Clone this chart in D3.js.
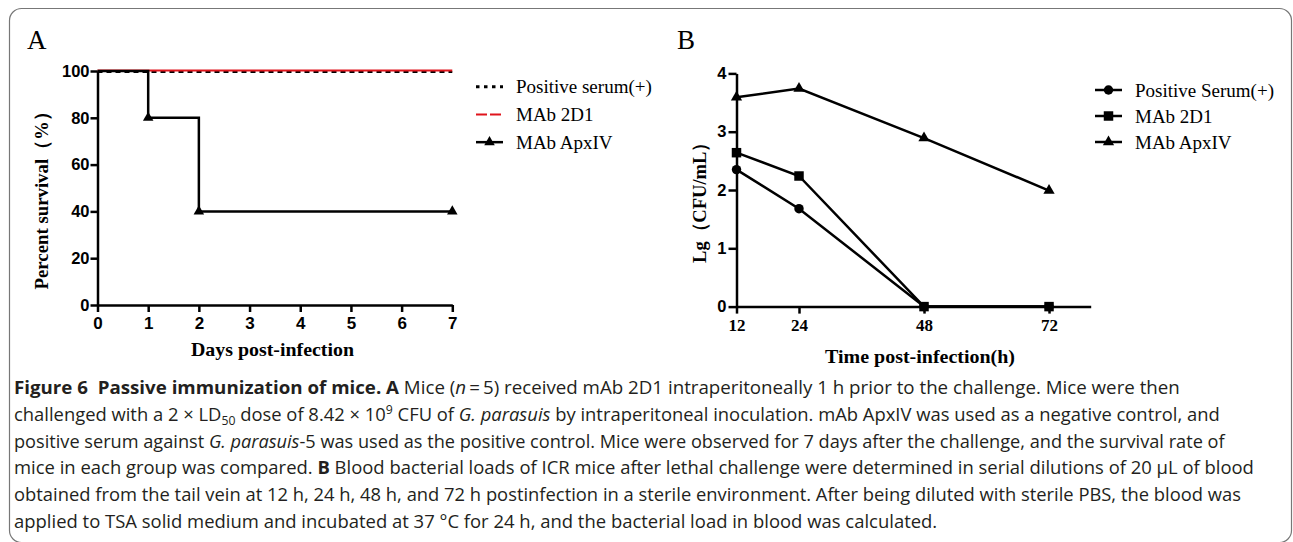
<!DOCTYPE html>
<html><head><meta charset="utf-8">
<script src="https://cdn.jsdelivr.net/npm/d3@7"></script>
<style>html,body{margin:0;padding:0;background:#fff;}svg{display:block;}</style>
</head><body>
<script>
// ---------- DATA ----------
const survivalDays = [0, 1, 2, 7];
const survivalPositiveSerum = [100, 100, 100, 100];
const survivalMAb2D1 = [100, 100, 100, 100];
const survivalMAbApxIV = [100, 80, 40, 40];
const survivalTicksX = [0, 1, 2, 3, 4, 5, 6, 7];
const survivalTicksY = [0, 20, 40, 60, 80, 100];
const survivalLegend = ["Positive serum(+)", "MAb 2D1", "MAb ApxIV"];

const loadHours = [12, 24, 48, 72];
const loadPositiveSerum = [2.35, 1.68, 0, 0];
const loadMAb2D1 = [2.64, 2.24, 0, 0];
const loadMAbApxIV = [3.59, 3.74, 2.89, 1.99];
const loadTicksX = [12, 24, 48, 72];
const loadTicksY = [0, 1, 2, 3, 4];
const loadLegend = ["Positive Serum(+)", "MAb 2D1", "MAb ApxIV"];

const captionLines = [
  [{t:"Figure 6\u00A0\u00A0Passive immunization of mice. A", b:1}, {t:" Mice ("}, {t:"n", i:1}, {t:"\u2009=\u20095) received mAb 2D1 intraperitoneally 1 h prior to the challenge. Mice were then"}],
  [{t:"challenged with a 2 × LD"}, {t:"50", sub:1}, {t:" dose of 8.42 × 10"}, {t:"9", sup:1}, {t:" CFU of "}, {t:"G. parasuis", i:1}, {t:" by intraperitoneal inoculation. mAb ApxIV was used as a negative control, and"}],
  [{t:"positive serum against "}, {t:"G. parasuis", i:1}, {t:"-5 was used as the positive control. Mice were observed for 7 days after the challenge, and the survival rate of"}],
  [{t:"mice in each group was compared. "}, {t:"B", b:1}, {t:" Blood bacterial loads of ICR mice after lethal challenge were determined in serial dilutions of 20 μL of blood"}],
  [{t:"obtained from the tail vein at 12 h, 24 h, 48 h, and 72 h postinfection in a sterile environment. After being diluted with sterile PBS, the blood was"}],
  [{t:"applied to TSA solid medium and incubated at 37 °C for 24 h, and the bacterial load in blood was calculated."}]
];
const captionLineEnds = [1180, 1220, 1225, 1254, 1242, 938];

// ---------- SETUP ----------
const W = 1293, H = 542;
const svg = d3.select("body").append("svg").attr("width", W).attr("height", H);
svg.append("rect").attr("width", W).attr("height", H).attr("fill", "#fff");
svg.append("rect").attr("x", 9.5).attr("y", 8.5).attr("width", 1282).attr("height", 534)
  .attr("rx", 12).attr("fill", "none").attr("stroke", "#777").attr("stroke-width", 1.2);

const SERIF = "'Liberation Serif','Times New Roman',serif";
const SANS = "'Liberation Sans',Arial,sans-serif";
const LW = 2.5;
const intFmt = d3.format("d");

function styleAxis(g, font, size) {
  g.select(".domain").attr("stroke", "#000").attr("stroke-width", LW);
  g.selectAll(".tick line").attr("stroke", "#000").attr("stroke-width", LW);
  g.selectAll(".tick text").attr("fill", "#000").style("font-family", font)
    .style("font-weight", "bold").style("font-size", size + "px");
}

// ---------- PANEL A ----------
const xA = d3.scaleLinear().domain([0, 7]).range([97.5, 452.3]);
const yA = d3.scaleLinear().domain([0, 100]).range([305, 71]);
const gA = svg.append("g");

gA.append("text").attr("x", 27).attr("y", 49).text("A")
  .style("font-family", SERIF).style("font-size", "27px");

const lineA = d3.line().x((d, i) => xA(survivalDays[i])).y(d => yA(d)).curve(d3.curveStepAfter);

gA.append("path").attr("d", lineA(survivalPositiveSerum)).attr("fill", "none")
  .attr("stroke", "#000").attr("stroke-width", 2).attr("stroke-dasharray", "5,4")
  .attr("transform", "translate(0,1)");
gA.append("path").attr("d", lineA(survivalMAb2D1)).attr("fill", "none")
  .attr("stroke", "#e0141c").attr("stroke-width", 2.2).attr("transform", "translate(0,-0.5)");

gA.append("g").attr("transform", `translate(0,${yA(0)})`)
  .call(d3.axisBottom(xA).tickValues(survivalTicksX).tickFormat(intFmt).tickSize(7).tickSizeOuter(0).tickPadding(5))
  .call(g => styleAxis(g, SANS, 17));
gA.append("g").attr("transform", `translate(${xA(0)},0)`)
  .call(d3.axisLeft(yA).tickValues(survivalTicksY).tickFormat(intFmt).tickSize(7).tickSizeOuter(0).tickPadding(1))
  .call(g => styleAxis(g, SANS, 16.5));

gA.append("path").attr("d", lineA(survivalMAbApxIV)).attr("fill", "none")
  .attr("stroke", "#000").attr("stroke-width", LW);
gA.selectAll(".triA").data(survivalMAbApxIV.map((v, i) => [survivalDays[i], v]).filter((d, i) => i > 0))
  .enter().append("path")
  .attr("d", d3.symbol().type(d3.symbolTriangle).size(48))
  .attr("transform", d => `translate(${xA(d[0])},${yA(d[1])})`).attr("fill", "#000");

gA.append("text").attr("x", 272.5).attr("y", 356).attr("text-anchor", "middle")
  .attr("textLength", 163).attr("lengthAdjust", "spacingAndGlyphs")
  .style("font-family", SERIF).style("font-weight", "bold").style("font-size", "19px")
  .text("Days post-infection");
gA.append("text").attr("transform", "translate(48,196) rotate(-90)").attr("text-anchor", "middle")
  .attr("textLength", 187).attr("lengthAdjust", "spacingAndGlyphs")
  .style("font-family", SERIF).style("font-weight", "bold").style("font-size", "19px")
  .text("Percent survival（%）");

// legend A
const legA = gA.append("g");
const legAy = d3.scaleBand().domain(survivalLegend).range([73, 156]);
const legAStyles = [
  {stroke: "#000", dash: "3.5,4.5", w: 3},
  {stroke: "#e0141c", dash: "11,3", w: 2.2},
  {stroke: "#000", dash: null, w: LW}
];
survivalLegend.forEach((name, i) => {
  const cy = legAy(name) + legAy.bandwidth() / 2;
  const s = legAStyles[i];
  const ln = legA.append("line").attr("x1", 476).attr("x2", 503).attr("y1", cy).attr("y2", cy)
    .attr("stroke", s.stroke).attr("stroke-width", s.w);
  if (s.dash) ln.attr("stroke-dasharray", s.dash);
  if (i === 2) legA.append("path").attr("d", d3.symbol().type(d3.symbolTriangle).size(48))
    .attr("transform", `translate(489.5,${cy})`).attr("fill", "#000");
  legA.append("text").attr("x", 516).attr("y", cy).attr("dy", "0.35em").text(name)
    .style("font-family", SERIF).style("font-size", "19px");
});

// ---------- PANEL B ----------
const xB = d3.scaleLinear().domain([12, 80]).range([736.5, 1090.7]);
const yB = d3.scaleLinear().domain([0, 4]).range([306.6, 73.4]);
const gB = svg.append("g");

gB.append("text").attr("x", 677).attr("y", 49).text("B")
  .style("font-family", SERIF).style("font-size", "27px");

gB.append("g").attr("transform", `translate(0,${yB(0)})`)
  .call(d3.axisBottom(xB).tickValues(loadTicksX).tickFormat(intFmt).tickSize(7).tickSizeOuter(0).tickPadding(5))
  .call(g => styleAxis(g, SERIF, 17));
gB.append("g").attr("transform", `translate(${xB(12)},0)`)
  .call(d3.axisLeft(yB).tickValues(loadTicksY).tickFormat(intFmt).tickSize(8).tickSizeOuter(0).tickPadding(2))
  .call(g => styleAxis(g, SANS, 16.5));

const lineB = d3.line().x((d, i) => xB(loadHours[i])).y(d => yB(d));
const seriesB = [
  {vals: loadPositiveSerum, sym: d3.symbolCircle, size: 70},
  {vals: loadMAb2D1, sym: d3.symbolSquare, size: 90},
  {vals: loadMAbApxIV, sym: d3.symbolTriangle, size: 55}
];
seriesB.forEach(s => {
  gB.append("path").attr("d", lineB(s.vals)).attr("fill", "none")
    .attr("stroke", "#000").attr("stroke-width", LW);
});
seriesB.forEach(s => {
  gB.selectAll(null).data(s.vals).enter().append("path")
    .attr("d", d3.symbol().type(s.sym).size(s.size))
    .attr("transform", (d, i) => `translate(${xB(loadHours[i])},${yB(d)})`).attr("fill", "#000");
});

gB.append("text").attr("x", 920).attr("y", 363).attr("text-anchor", "middle")
  .attr("textLength", 190).attr("lengthAdjust", "spacingAndGlyphs")
  .style("font-family", SERIF).style("font-weight", "bold").style("font-size", "19px")
  .text("Time post-infection(h)");
gB.append("text").attr("transform", "translate(706,198) rotate(-90)").attr("text-anchor", "middle")
  .attr("textLength", 130).attr("lengthAdjust", "spacingAndGlyphs")
  .style("font-family", SERIF).style("font-weight", "bold").style("font-size", "19px")
  .text("Lg（CFU/mL）");

const legB = gB.append("g");
const legBy = d3.scaleBand().domain(loadLegend).range([77, 155]);
loadLegend.forEach((name, i) => {
  const cy = legBy(name) + legBy.bandwidth() / 2;
  legB.append("line").attr("x1", 1095).attr("x2", 1122).attr("y1", cy).attr("y2", cy)
    .attr("stroke", "#000").attr("stroke-width", LW);
  legB.append("path").attr("d", d3.symbol().type(seriesB[i].sym).size(seriesB[i].size))
    .attr("transform", `translate(1108.5,${cy})`).attr("fill", "#000");
  legB.append("text").attr("x", 1135).attr("y", cy).attr("dy", "0.35em").text(name)
    .style("font-family", SERIF).style("font-size", "19px");
});

// ---------- CAPTION ----------
const CAP = "'Open Sans','Noto Sans',sans-serif";
const capY = d3.scaleLinear().domain([0, captionLines.length - 1]).range([394, 528]);
captionLines.forEach((segs, li) => {
  const t = svg.append("text").attr("x", 0).attr("y", 0)
    .style("font-family", CAP).style("font-size", "18px").attr("fill", "#231f20");
  let shift = 0;
  segs.forEach(s => {
    const ts = t.append("tspan").text(s.t);
    let target = s.sub ? 4 : (s.sup ? -7 : 0);
    if (target !== shift) { ts.attr("dy", target - shift); shift = target; }
    if (s.b) ts.style("font-weight", "bold");
    if (s.i) ts.style("font-style", "italic");
    if (s.sub || s.sup) ts.style("font-size", "12px");
  });
  const w = t.node().getComputedTextLength();
  const sx = (captionLineEnds[li] - 14) / w;
  t.attr("transform", `translate(14,${capY(li)}) scale(${sx},1)`);
});
</script>
</body></html>
